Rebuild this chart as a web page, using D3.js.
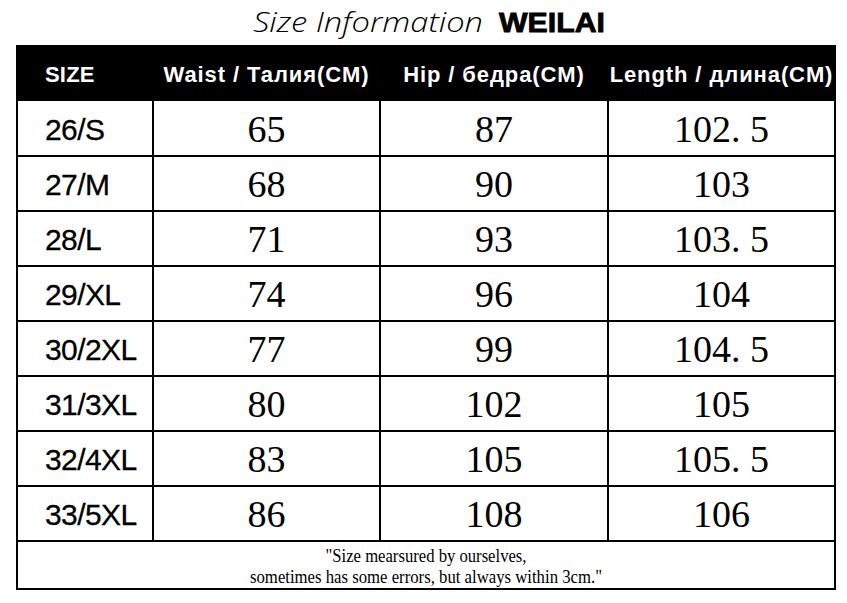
<!DOCTYPE html>
<html>
<head>
<meta charset="utf-8">
<script src="https://cdn.jsdelivr.net/npm/d3@7"></script>
<style>
  html, body { margin: 0; padding: 0; background: #fff; }
  svg { display: block; }
</style>
</head>
<body>
<svg id="chart" width="847" height="603"></svg>
<script>
// ---- data ----
const titleMain = "Size Information";
const titleBrand = "WEILAI";
const headers = ["SIZE", "Waist / Талия(CM)", "Hip / бедра(CM)", "Length / длина(CM)"];
const sizes = ["26/S", "27/M", "28/L", "29/XL", "30/2XL", "31/3XL", "32/4XL", "33/5XL"];
const waist = [65, 68, 71, 74, 77, 80, 83, 86];
const hip = [87, 90, 93, 96, 99, 102, 105, 108];
const length = [102.5, 103, 103.5, 104, 104.5, 105, 105.5, 106];
const footnote = ["\"Size mearsured by ourselves,", "sometimes has some errors, but always within 3cm.\""];

// ---- layout ----
const W = 847, H = 603;
const left = 17, right = 835;
const headTop = 46, headBottom = 101, bodyBottom = 541, footBottom = 589;
const colWeights = [136, 227, 228, 227];

const svg = d3.select("#chart");

// column scale: cumulative weights -> x
const cum = [0];
colWeights.forEach(w => cum.push(cum[cum.length - 1] + w));
const xCol = d3.scaleLinear().domain([0, cum[cum.length - 1]]).range([left, right]);
const colEdges = cum.map(c => xCol(c));

// row scale
const y = d3.scaleBand().domain(sizes).range([headBottom, bodyBottom]).padding(0);

// ---- title ----
svg.append("text")
  .attr("x", 253).attr("y", 32)
  .attr("fill", "#000")
  .attr("font-family", "'Open Sans', 'DejaVu Sans', sans-serif")
  .attr("font-style", "italic")
  .attr("font-weight", 300)
  .attr("font-size", 28)
  .attr("textLength", 230)
  .attr("lengthAdjust", "spacingAndGlyphs")
  .text(titleMain);
svg.append("text")
  .attr("x", 499).attr("y", 32)
  .attr("font-family", "'Liberation Sans', Arial, sans-serif")
  .attr("font-weight", 700)
  .attr("font-size", 27)
  .attr("stroke", "#000").attr("stroke-width", 0.8)
  .attr("textLength", 106)
  .attr("lengthAdjust", "spacingAndGlyphs")
  .text(titleBrand);

// ---- header ----
svg.append("rect")
  .attr("x", left).attr("y", headTop)
  .attr("width", right - left).attr("height", headBottom - headTop)
  .attr("fill", "#000");

svg.selectAll("text.head")
  .data(headers)
  .join("text")
  .attr("class", "head")
  .attr("x", (d, i) => i === 0 ? colEdges[0] + 28 : (colEdges[i] + colEdges[i + 1]) / 2)
  .attr("y", (headTop + headBottom) / 2 + 8)
  .attr("text-anchor", (d, i) => i === 0 ? "start" : "middle")
  .attr("font-family", "'Liberation Sans', Arial, sans-serif")
  .attr("font-weight", 700)
  .attr("font-size", 22)
  .attr("letter-spacing", (d, i) => i === 0 ? 0.2 : 0.9)
  .attr("fill", "#fff")
  .text(d => d);

// ---- body ----
const rows = sizes.map((s, i) => ({ size: s, vals: [waist[i], hip[i], length[i]] }));
const fmt = v => Number.isInteger(v) ? String(v) : String(v).replace(".", ". ");

const g = svg.append("g");
const rowG = g.selectAll("g.row").data(rows).join("g").attr("class", "row");

rowG.append("text")
  .attr("x", colEdges[0] + 28)
  .attr("y", d => y(d.size) + y.bandwidth() / 2 + 11)
  .attr("font-family", "'Liberation Sans', Arial, sans-serif")
  .attr("font-size", 30)
  .attr("letter-spacing", -0.6)
  .attr("fill", "#000")
  .attr("stroke", "#000").attr("stroke-width", 0.3)
  .text(d => d.size);

rowG.selectAll("text.val")
  .data(d => d.vals.map((v, j) => ({ v, j, size: d.size })))
  .join("text")
  .attr("class", "val")
  .attr("x", d => (colEdges[d.j + 1] + colEdges[d.j + 2]) / 2)
  .attr("y", d => y(d.size) + y.bandwidth() / 2 + 13)
  .attr("text-anchor", "middle")
  .attr("font-family", "'Liberation Serif', 'Times New Roman', serif")
  .attr("font-size", 38)
  .attr("fill", "#000")
  .text(d => fmt(d.v));

// grid lines
const lines = svg.append("g").attr("stroke", "#000").attr("stroke-width", 2);
lines.selectAll("line.h")
  .data(sizes.slice(1))
  .join("line")
  .attr("x1", left).attr("x2", right)
  .attr("y1", d => y(d)).attr("y2", d => y(d));
lines.append("line").attr("x1", left).attr("x2", right).attr("y1", bodyBottom).attr("y2", bodyBottom);
lines.selectAll("line.v")
  .data(colEdges.slice(1, -1))
  .join("line")
  .attr("x1", d => d).attr("x2", d => d)
  .attr("y1", headBottom).attr("y2", bodyBottom);
lines.append("rect")
  .attr("x", left).attr("y", headTop)
  .attr("width", right - left).attr("height", footBottom - headTop)
  .attr("fill", "none");

// ---- footnote ----
const fnLengths = [201, 352];
svg.selectAll("text.fn")
  .data(footnote)
  .join("text")
  .attr("class", "fn")
  .attr("x", (left + right) / 2)
  .attr("y", (d, i) => 562 + i * 21)
  .attr("text-anchor", "middle")
  .attr("font-family", "'Liberation Serif', 'Times New Roman', serif")
  .attr("font-size", 18)
  .attr("textLength", (d, i) => fnLengths[i])
  .attr("lengthAdjust", "spacingAndGlyphs")
  .attr("fill", "#000")
  .text(d => d);
</script>
</body>
</html>
